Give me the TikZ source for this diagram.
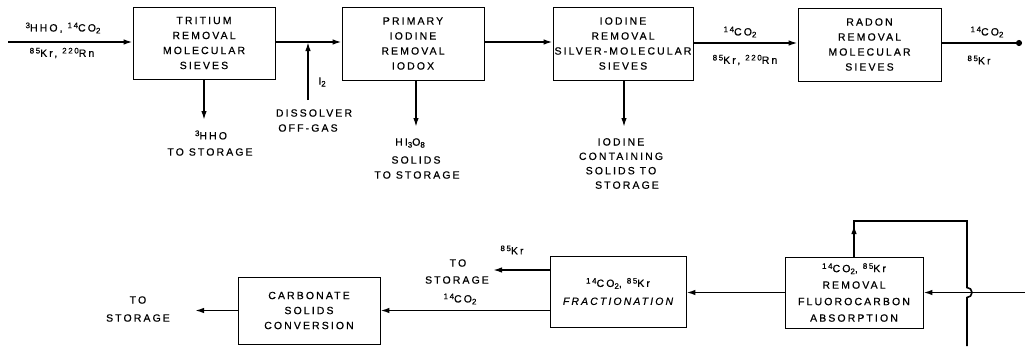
\documentclass[tikz,border=0pt]{standalone}
\usepackage{fontspec}
\setmainfont{Liberation Sans}
\newfontfamily\lab[LetterSpace=20,FakeBold=0.6]{Liberation Sans}
\usetikzlibrary{arrows.meta}
\newcommand\up[1]{\raisebox{0.6ex}{\fontsize{8}{8}\selectfont #1}}
\newcommand\dn[1]{\raisebox{-0.35ex}{\fontsize{8}{8}\selectfont #1}}
\begin{document}
\begin{tikzpicture}[x=1pt,y=-1pt,
  every node/.style={font=\lab\fontsize{10.5}{15}\selectfont, align=center, inner sep=0pt},
  box/.style={draw, line width=0.7pt},
  arr/.style={line width=1.6pt, -{Latex[length=9pt,width=5.5pt]}},
  dotarr/.style={line width=1.6pt, -{Circle[length=6pt]}},
  ln/.style={line width=1.6pt}]
\useasboundingbox (0,0) rectangle (1025,346);
% top row boxes
\node[box, minimum width=142pt, minimum height=72pt] (b1) at (204,43) {TRITIUM\\REMOVAL\\MOLECULAR\\SIEVES};
\node[box, minimum width=142pt, minimum height=73pt] (b2) at (413,43.5) {PRIMARY\\IODINE\\REMOVAL\\IODOX};
\node[box, minimum width=140pt, minimum height=73pt] (b3) at (623,43.5) {IODINE\\REMOVAL\\SILVER-MOLECULAR\\SIEVES};
\node[box, minimum width=143pt, minimum height=73pt] (b4) at (869.5,44.5) {RADON\\REMOVAL\\MOLECULAR\\SIEVES};
% bottom row boxes
\node[box, minimum width=142pt, minimum height=67pt] (b5) at (309,310.5) {CARBONATE\\SOLIDS\\CONVERSION};
\node[box, minimum width=136pt, minimum height=71pt] (b6) at (618,291.5) {\up{14}CO\dn{2}, \up{85}Kr\\[3pt]\itshape FRACTIONATION};
\node[box, minimum width=138pt, minimum height=71pt, font=\lab\fontsize{10.5}{16.5}\selectfont] (b7) at (854,292.5) {\up{14}CO\dn{2}, \up{85}Kr\\REMOVAL\\FLUOROCARBON\\ABSORPTION};
% coordinates
\coordinate (in) at (8,42);
\coordinate (out) at (1022,43);
\coordinate (i2) at (308,100);
\coordinate (d1) at (204,120);
\coordinate (d2) at (416,127);
\coordinate (d3) at (624,127);
\coordinate (left) at (195,310.5);
\coordinate (kr) at (493,270);
\coordinate (rin) at (1025,292.5);
\coordinate (tr) at (967,221);
\coordinate (bot) at (967,346);
% top row connectors
\draw[arr] (in) -- (b1.west|-in);
\draw[arr] (b1.east|-in) -- (b2.west|-in);
\draw[arr] (i2) -- (i2|-in);
\draw[arr] (b2.east|-in) -- (b3.west|-in);
\draw[arr] (b3.east|-out) -- (b4.west|-out);
\draw[dotarr] (b4.east|-out) -- (out);
\draw[arr] (b1.south) -- (d1);
\draw[arr] (d2|-b2.south) -- (d2);
\draw[arr] (d3|-b3.south) -- (d3);
% bottom row connectors
\draw[arr] (rin) -- (b7.east);
\draw[arr] (b7.west) -- (b6.east|-b7.west);
\draw[arr] (b6.west|-b5.east) -- (b5.east);
\draw[arr] (b6.west|-kr) -- (kr);
\draw[arr] (b5.west) -- (left);
\draw[ln] (b7.north) -- (b7.north|-tr) -- (tr) -- (967,287.5) arc[start angle=90, end angle=-90, radius=5pt] -- (bot);
\draw[arr] (b7.north) -- ([yshift=-4pt]b7.north|-tr);
% labels
\node (l1) at (63,28) {\up{3}HHO, \up{14}CO\dn{2}};
\node (l2) at (62,53) {\up{85}Kr, \up{220}Rn};
\node (l3) at (211,135) {\up{3}HHO};
\node (l4) at (210,152) {TO STORAGE};
\node (l5) at (322,82) {I\dn{2}};
\node (l6) at (314,113) {DISSOLVER};
\node (l7) at (308,128) {OFF-GAS};
\node (l8) at (410,143) {HI\dn{3}O\dn{8}};
\node (l9) at (416,160) {SOLIDS};
\node (l10) at (417,175) {TO STORAGE};
\node[font=\lab\fontsize{10.5}{14.4}\selectfont] (l11) at (621,163.5) {IODINE\\CONTAINING\\SOLIDS TO\\\hspace*{12pt}STORAGE};
\node (l13) at (740,32) {\up{14}CO\dn{2}};
\node (l14) at (745,60) {\up{85}Kr, \up{220}Rn};
\node (l15) at (987,32) {\up{14}CO\dn{2}};
\node (l16) at (979,60) {\up{85}Kr};
\node (l17) at (138,300) {TO};
\node (l18) at (138,318) {STORAGE};
\node (l19) at (512,250) {\up{85}Kr};
\node (l20) at (458,263) {TO};
\node (l21) at (457,280) {STORAGE};
\node (l22) at (460,299) {\up{14}CO\dn{2}};
\end{tikzpicture}
\end{document}
